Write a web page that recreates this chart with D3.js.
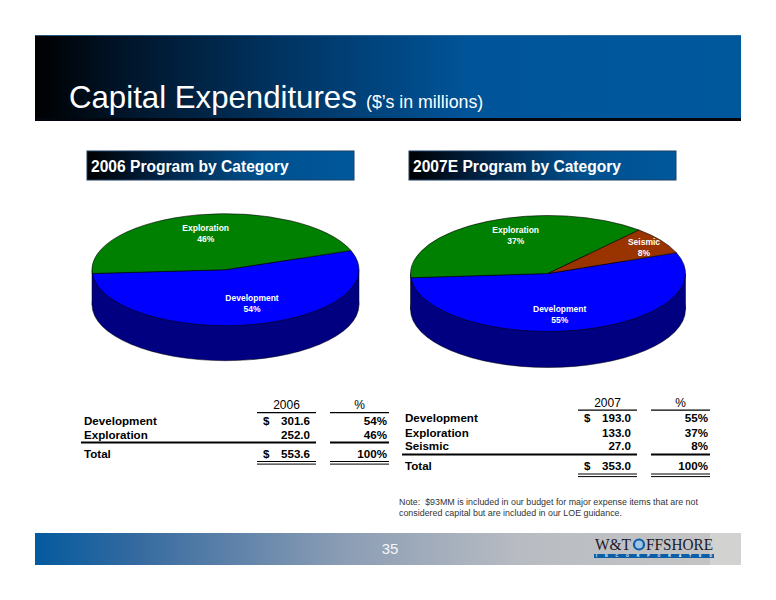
<!DOCTYPE html>
<html><head><meta charset="utf-8">
<script src="https://cdn.jsdelivr.net/npm/d3@7"></script>
<style>html,body{margin:0;padding:0;background:#fff}svg{display:block}text{font-family:"Liberation Sans",Arial,sans-serif}</style>
</head><body><svg id="c" width="776" height="600"></svg>
<script>
const categories2006 = ["Development", "Exploration"];
const values2006 = [301.6, 252.0];
const percents2006 = ["54%", "46%"];
const categories2007 = ["Development", "Exploration", "Seismic"];
const values2007 = [193.0, 133.0, 27.0];
const percents2007 = ["55%", "37%", "8%"];
const totals = { y2006: 553.6, y2007: 353.0 };
const noteLines = ["Note:\u00a0\u00a0$93MM is included in our budget for major expense items that are not",
                   "considered capital but are included in our LOE guidance."];
const colors = { Development: "#0000ff", Exploration: "#008000", Seismic: "#993300" };
const sideColor = "#000080";

const svg = d3.select("#c");
const defs = svg.append("defs");
function grad(id, stops) {
  const g = defs.append("linearGradient").attr("id", id);
  stops.forEach(s => g.append("stop").attr("offset", s[0]).attr("stop-color", s[1]));
}
grad("hdr", [[0, "#000000"], [0.12, "#001428"], [0.35, "#003462"], [0.62, "#00559a"], [1, "#00589c"]]);
grad("sub", [[0, "#000000"], [0.25, "#00203f"], [0.65, "#00508e"], [1, "#00589c"]]);
grad("ftr", [[0, "#035a9f"], [0.15, "#356aa0"], [0.45, "#8a9cb4"], [0.72, "#b8bcc2"], [1, "#c4c4c4"]]);

// header band
svg.append("rect").attr("x", 35).attr("y", 35).attr("width", 706).attr("height", 86).attr("fill", "url(#hdr)");
svg.append("rect").attr("x", 35).attr("y", 35).attr("width", 706).attr("height", 1).attr("fill", "#3c78a8").attr("opacity", .7);
svg.append("rect").attr("x", 35).attr("y", 118).attr("width", 706).attr("height", 3).attr("fill", "#02060f");
svg.append("text").attr("x", 69).attr("y", 108).attr("fill", "#fff").attr("font-size", 31.2).text("Capital Expenditures");
svg.append("text").attr("x", 366).attr("y", 108).attr("fill", "#fff").attr("font-size", 17.8).text("($\u2019s in millions)");

// sub headers
[[87, "2006 Program by Category"], [409, "2007E Program by Category"]].forEach(([x, t]) => {
  svg.append("rect").attr("x", x).attr("y", 151).attr("width", 267).attr("height", 29)
    .attr("fill", "url(#sub)").attr("stroke", "#1c3f66").attr("stroke-width", 1);
  svg.append("text").attr("x", x + 4).attr("y", 172).attr("fill", "#fff")
    .attr("font-size", 15.6).attr("font-weight", "bold").text(t);
});

// pies
const arcGen = d3.arc().innerRadius(0);
function drawPie(cats, vals, pcts, o) {
  const k = o.ry / o.rx;
  const g = svg.append("g").attr("transform", `translate(${o.cx},${o.cy})`);
  const squash = `scale(1,${k})`;
  const full = arcGen.outerRadius(o.rx)({ startAngle: 0, endAngle: 2 * Math.PI });
  g.append("path").attr("d", full).attr("transform", `translate(0,${o.depth}) ${squash}`)
    .attr("fill", sideColor).attr("stroke", "#000").attr("stroke-width", .5).attr("vector-effect", "non-scaling-stroke");
  g.append("rect").attr("x", -o.rx).attr("y", 0).attr("width", 2 * o.rx).attr("height", o.depth)
    .attr("fill", sideColor);
  [-o.rx, o.rx].forEach(x => g.append("line").attr("x1", x).attr("x2", x).attr("y1", 0).attr("y2", o.depth)
    .attr("stroke", "#000").attr("stroke-width", .5));
  const pie = d3.pie().sort(null).startAngle(o.start).endAngle(o.start + 2 * Math.PI);
  const slices = pie(vals);
  g.selectAll("path.s").data(slices).enter().append("path").attr("class", "s")
    .attr("d", d => arcGen.outerRadius(o.rx)(d)).attr("transform", squash)
    .attr("fill", (d, i) => colors[cats[i]]).attr("stroke", "#000").attr("stroke-width", .6)
    .attr("vector-effect", "non-scaling-stroke");
  cats.forEach((c, i) => {
    const [lx, ly] = o.labels[i];
    const t = svg.append("g").attr("fill", "#fff").attr("font-size", 8.5).attr("font-weight", "bold").attr("text-anchor", "middle");
    t.append("text").attr("x", lx).attr("y", ly).text(c);
    t.append("text").attr("x", lx).attr("y", ly + 11.3).text(pcts[i]);
  });
}
const deg = Math.PI / 180;
drawPie(categories2006, values2006, percents2006, { cx: 225.5, cy: 269.7, rx: 133.5, ry: 56, depth: 35, start: 70 * deg,
  labels: [[252, 300.5], [205.7, 230.5]] });
drawPie(categories2007, values2007, percents2007, { cx: 548, cy: 273.5, rx: 137.5, ry: 58, depth: 36, start: 69 * deg,
  labels: [[559.7, 312], [515.7, 233], [644, 245]] });

// tables
function drawTable(cats, vals, pcts, total, head, o) {
  const g = svg.append("g").attr("fill", "#000").attr("font-size", 11.6).attr("font-weight", "bold");
  const fmt = d3.format(".1f");
  const bar = (x1, x2, y, w) => g.append("line").attr("x1", x1).attr("x2", x2).attr("y1", y).attr("y2", y)
    .attr("stroke", "#000").attr("stroke-width", w);
  g.append("text").attr("x", (o.a1 + o.a2) / 2).attr("y", o.head).attr("text-anchor", "middle").attr("font-weight", "normal").attr("font-size", 12).text(head);
  g.append("text").attr("x", (o.b1 + o.b2) / 2).attr("y", o.head).attr("text-anchor", "middle").attr("font-weight", "normal").attr("font-size", 12).text("%");
  bar(o.a1, o.a2, o.head + 3.6, 1.2); bar(o.b1, o.b2, o.head + 3.6, 1.2);
  cats.forEach((c, i) => {
    const y = o.rows[i];
    g.append("text").attr("x", o.left + 3).attr("y", y).text(c);
    if (i === 0) g.append("text").attr("x", o.a1 + 6).attr("y", y).text("$");
    g.append("text").attr("x", o.a2 - 6).attr("y", y).attr("text-anchor", "end").text(fmt(vals[i]));
    g.append("text").attr("x", o.b2 - 2).attr("y", y).attr("text-anchor", "end").text(pcts[i]);
  });
  bar(o.left, o.a2, o.thick, 1.8); bar(o.b1, o.b2, o.thick, 1.8);
  g.append("text").attr("x", o.left + 3).attr("y", o.total).text("Total");
  g.append("text").attr("x", o.a1 + 6).attr("y", o.total).text("$");
  g.append("text").attr("x", o.a2 - 6).attr("y", o.total).attr("text-anchor", "end").text(fmt(total));
  g.append("text").attr("x", o.b2 - 2).attr("y", o.total).attr("text-anchor", "end").text("100%");
  [o.total + 4, o.total + 6.6].forEach(y => { bar(o.a1, o.a2, y, 1); bar(o.b1, o.b2, y, 1); });
}
drawTable(categories2006, values2006, percents2006, totals.y2006, "2006",
  { left: 81, a1: 257, a2: 316, b1: 330, b2: 389, head: 409, rows: [424.5, 438.5], thick: 442.5, total: 457.5 });
drawTable(categories2007, values2007, percents2007, totals.y2007, "2007",
  { left: 402, a1: 578, a2: 637, b1: 651, b2: 710, head: 406.5, rows: [421.5, 436.5, 450], thick: 454.5, total: 470 });

noteLines.forEach((t, i) => svg.append("text").attr("x", 399).attr("y", 505 + i * 11)
  .attr("font-size", 8.9).attr("fill", "#333").text(t));

// footer
svg.append("rect").attr("x", 35).attr("y", 533).attr("width", 675).attr("height", 32).attr("fill", "url(#ftr)");
svg.append("rect").attr("x", 710).attr("y", 533).attr("width", 31).attr("height", 32).attr("fill", "#d2d2d0");
svg.append("text").attr("x", 390).attr("y", 553.5).attr("text-anchor", "middle").attr("fill", "#f4f6fa").attr("font-size", 15).text("35");

// logo
const logo = svg.append("g").attr("fill", "#1a1a2a");
const serif = '"Liberation Serif",serif';
logo.append("text").attr("x", 595).attr("y", 550).attr("font-size", 16.5).style("font-family", serif)
  .attr("textLength", 36).attr("lengthAdjust", "spacingAndGlyphs").text("W&T");
logo.append("text").attr("x", 646).attr("y", 550).attr("font-size", 16.5).style("font-family", serif)
  .attr("textLength", 67).attr("lengthAdjust", "spacingAndGlyphs").text("FFSHORE");
logo.append("circle").attr("cx", 639).attr("cy", 544.5).attr("r", 5).attr("fill", "#9fc4e4").attr("stroke", "#0d5ea6").attr("stroke-width", 2.2);
logo.append("rect").attr("x", 594).attr("y", 554).attr("width", 120).attr("height", 4).attr("fill", "#0d5ea6");
logo.append("text").attr("x", 596).attr("y", 557.4).attr("font-size", 3.6).attr("font-weight", "bold").attr("fill", "#fff")
  .attr("textLength", 116).text("INCORPORATED");
</script></body></html>
